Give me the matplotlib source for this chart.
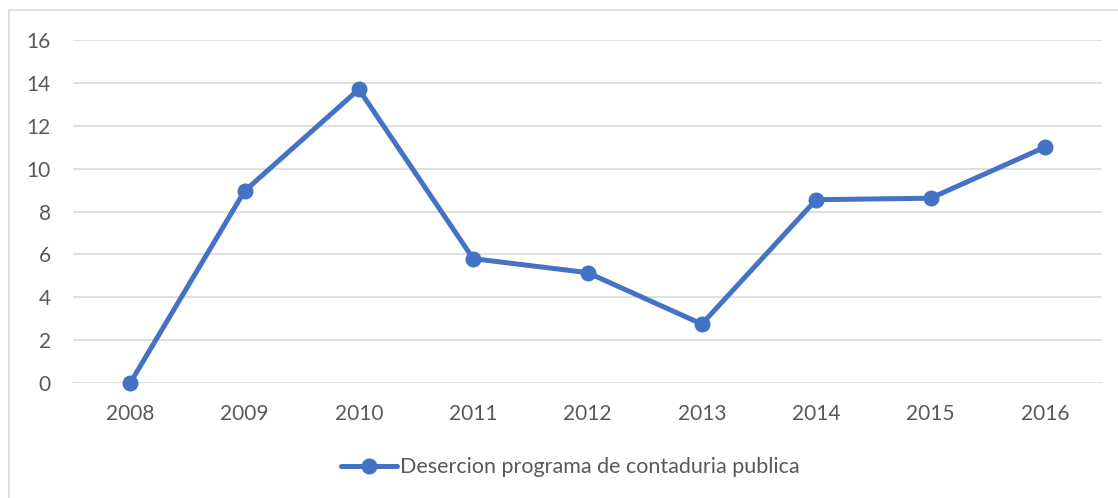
import matplotlib.pyplot as plt
from matplotlib.patches import Rectangle

# Data
years = ['2008', '2009', '2010', '2011', '2012', '2013', '2014', '2015', '2016']
desercion = [0.0, 8.95, 13.7, 5.8, 5.15, 2.75, 8.55, 8.62, 11.0]
series_label = 'Desercion programa de contaduria publica'

text_color = '#595959'
line_color = '#4472C4'
plt.rcParams['font.family'] = ['Lato', 'DejaVu Sans']

fig = plt.figure(figsize=(11.18, 4.98), dpi=100)
ax = fig.add_axes([0.0653, 0.2309, 0.9204, 0.6888])

x = range(len(years))
ax.plot(x, desercion, color=line_color, linewidth=3.6, marker='o',
        markersize=10.5, solid_capstyle='round', solid_joinstyle='round',
        label=series_label, zorder=3)

ax.set_xlim(-0.5, len(years) - 0.5)
ax.set_ylim(0, 16)
ax.set_yticks(range(0, 17, 2))
ax.set_xticks(list(x))
ax.set_xticklabels(years)
ax.grid(axis='y', color='#D9D9D9', linewidth=1.2)
ax.set_axisbelow(True)
for s in ax.spines.values():
    s.set_visible(False)
ax.tick_params(length=0, labelsize=15, colors=text_color)
ax.tick_params(axis='y', pad=16)
ax.tick_params(axis='x', pad=15)
for line in ax.lines:
    line.set_clip_on(False)

leg = fig.legend(loc='center', bbox_to_anchor=(0.51, 0.062), frameon=False,
                 fontsize=15.5, handlelength=2.6, handletextpad=0.15)
for t in leg.get_texts():
    t.set_color(text_color)

# chart border
fig.patches.append(Rectangle((9 / 1118, -0.1), 1.2, 1.079,
                             transform=fig.transFigure, fill=False,
                             edgecolor='#D9D9D9', linewidth=1.2))

fig.savefig('out.png', dpi=100)
